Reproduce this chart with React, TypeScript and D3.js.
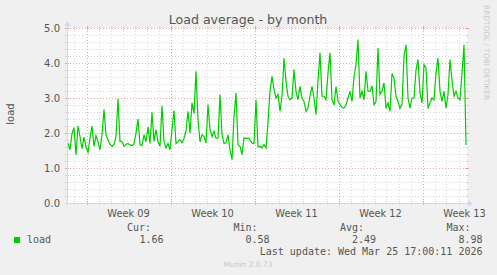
import React from "react";
import * as d3 from "d3";

const TITLE = "Load average - by month";
const Y_LABEL = "load";
const SERIES_NAME = "load";
const STAT_LABELS = ["Cur:", "Min:", "Avg:", "Max:"];
const STAT_VALUES = ["1.66", "0.58", "2.49", "8.98"];
const LAST_UPDATE = "Last update: Wed Mar 25 17:00:11 2026";
const FOOTER = "Munin 2.0.73";
const WATERMARK = "RRDTOOL / TOBI OETIKER";
const Y_TICKS = [0, 1, 2, 3, 4, 5];

// end of the graph and sampling step (4 hours per value)
const END_TIME = Date.UTC(2026, 2, 25, 17, 0, 0);
const SPAN_HOURS = 800;
const STEP_HOURS = 4;

const LOAD = [
  1.71, 1.52, 1.98, 2.15, 1.38, 2.2, 1.9, 1.55, 1.88, 1.6,
  1.45, 1.85, 2.2, 1.62, 1.92, 1.75, 1.52, 1.95, 2.67, 1.95,
  1.81, 1.68, 1.62, 1.67, 1.9, 2.97, 1.76, 1.75, 1.62, 1.67,
  1.7, 1.66, 1.64, 1.68, 2.0, 2.4, 1.67, 1.64, 1.95, 1.75,
  2.17, 1.7, 2.59, 1.76, 2.1, 1.75, 1.62, 2.78, 1.75, 1.57,
  1.7, 1.52, 2.1, 2.64, 1.7, 1.75, 1.81, 1.72, 1.84, 2.05,
  2.62, 2.0, 2.86, 2.55, 3.76, 2.38, 1.75, 1.95, 1.9, 1.71,
  2.81, 2.1, 1.9, 2.05, 1.85, 1.85, 3.1, 1.95, 1.7, 1.72,
  1.95, 1.52, 1.24, 2.48, 3.14, 1.67, 1.62, 1.38, 1.86, 1.84,
  1.86, 1.81, 1.71, 1.7, 2.95, 1.6, 1.62, 1.57, 1.67, 1.57,
  2.3, 3.19, 3.62, 3.25, 3.0, 3.1, 2.62, 3.05, 4.14, 3.48,
  3.05, 2.95, 3.0, 3.81, 3.19, 2.95, 3.33, 3.0, 2.9, 2.62,
  2.71, 3.05, 3.33, 3.0, 2.52, 3.5, 4.29, 3.05, 3.05, 2.95,
  3.71, 4.29, 2.95, 2.8, 3.33, 2.92, 2.81, 2.73, 2.71, 2.8,
  3.0, 3.19, 2.9, 3.6, 3.95, 4.67, 3.0, 3.19, 2.95, 3.76,
  3.2, 3.19, 3.35, 2.81, 2.9, 4.43, 3.1, 3.19, 3.43, 2.7,
  2.86, 2.62, 3.7, 3.57, 3.05, 2.9, 2.7, 2.81, 4.2, 4.52,
  3.0, 2.71, 3.0, 3.0, 3.8, 4.1, 3.14, 2.86, 3.95, 3.86,
  2.7, 2.86, 3.0, 2.95, 3.71, 4.14, 3.19, 2.9, 3.19, 2.71,
  3.1, 4.1, 3.5, 3.05, 3.19, 3.0, 2.95, 3.71, 4.52, 1.66,
];

const W = 497;
const H = 275;
const X0 = 67;
const X1 = 467;
const Y0 = 203;
const Y1 = 28;

const FONT = "'DejaVu Sans', sans-serif";
const MONO = "'DejaVu Sans Mono', monospace";
const TEXT = "#555555";
const AXIS = "#CFD6F8";
const MINOR = "#D8D8D8";
const MAJOR = "#E4A4A4";
const LINE = "#00CC00";

export default function App() {
  const HOUR = 3600 * 1000;
  const start = new Date(END_TIME - SPAN_HOURS * HOUR);
  const end = new Date(END_TIME);
  const x = d3.scaleUtc().domain([start, end]).range([X0, X1]);
  const y = d3.scaleLinear().domain([0, 5]).range([Y0, Y1]);

  const n = LOAD.length;
  const points = LOAD.map((v, i) => ({
    t: new Date(END_TIME - 2 * HOUR - (n - 1 - i) * STEP_HOURS * HOUR),
    v,
  }));
  const line = d3
    .line<{ t: Date; v: number }>()
    .x((d) => x(d.t))
    .y((d) => y(d.v));

  const days = d3.utcDay.range(start, end);
  const weeks = d3.utcSunday.range(d3.utcSunday.offset(start, -1), end);
  const weekSet = new Set(weeks.map((d) => d.getTime()));
  const minorY = d3.range(0, 5.001, 0.2).map((v) => +v.toFixed(1));
  const fmtWeek = d3.utcFormat("Week %V");
  const labels = weeks
    .map((w) => new Date(w.getTime() + 3.5 * 24 * HOUR))
    .filter((d) => d >= start && d <= end);

  return (
    <svg
      width={W}
      height={H}
      style={{ position: "absolute", left: 0, top: 0, display: "block" }}
      xmlns="http://www.w3.org/2000/svg"
    >
      <rect x={0} y={0} width={W} height={H} fill="#F0F0F0" />
      <rect x={X0} y={Y1} width={X1 - X0} height={Y0 - Y1} fill="#FFFFFF" />

      {/* horizontal grid */}
      {minorY.map((v) => {
        const major = Math.abs(v - Math.round(v)) < 1e-6;
        const yy = Math.round(y(v)) + 0.5;
        return (
          <g key={"h" + v}>
            <line x1={X0} x2={X1} y1={yy} y2={yy} stroke={major ? MAJOR : MINOR} strokeWidth={1} strokeDasharray="1,2" />
            <line x1={X0 - 2} x2={X0 + 2} y1={yy} y2={yy} stroke={major ? MAJOR : MINOR} strokeWidth={1} />
            <line x1={X1 - 2} x2={X1 + 2} y1={yy} y2={yy} stroke={major ? MAJOR : MINOR} strokeWidth={1} />
          </g>
        );
      })}

      {/* vertical grid */}
      {days.map((d) => {
        const major = weekSet.has(d.getTime());
        const xx = Math.round(x(d)) + 0.5;
        return (
          <g key={"v" + d.getTime()}>
            <line x1={xx} x2={xx} y1={Y1} y2={Y0} stroke={major ? MAJOR : MINOR} strokeWidth={1} strokeDasharray="1,2" />
            <line x1={xx} x2={xx} y1={Y0 - 2} y2={Y0 + 2} stroke={major ? MAJOR : MINOR} strokeWidth={1} />
            <line x1={xx} x2={xx} y1={Y1 - 2} y2={Y1 + 2} stroke={major ? MAJOR : MINOR} strokeWidth={1} />
          </g>
        );
      })}

      {/* data line */}
      <path d={line(points) || ""} fill="none" stroke={LINE} strokeWidth={1.2} />

      {/* axes */}
      <line x1={X0 + 0.5} x2={X0 + 0.5} y1={Y0 + 2} y2={Y1 - 4} stroke={AXIS} strokeWidth={1} />
      <line x1={X0 - 2} x2={X1 + 3} y1={Y0 + 0.5} y2={Y0 + 0.5} stroke={AXIS} strokeWidth={1} />
      <path d={`M${X0 - 2.5},${Y1 - 2} L${X0 + 0.5},${Y1 - 7} L${X0 + 3.5},${Y1 - 2} Z`} fill={AXIS} />
      <path d={`M${X1 + 1},${Y0 - 2.5} L${X1 + 6},${Y0 + 0.5} L${X1 + 1},${Y0 + 3.5} Z`} fill={AXIS} />

      {/* y tick labels */}
      {Y_TICKS.map((v) => (
        <text key={"yt" + v} x={60} y={y(v) + 3.6} textAnchor="end" fontFamily={FONT} fontSize={10} fill={TEXT}>
          {v.toFixed(1)}
        </text>
      ))}

      {/* x labels */}
      {labels.map((d) => (
        <text key={"xl" + d.getTime()} x={x(d)} y={217} textAnchor="middle" fontFamily={FONT} fontSize={9.8} fill={TEXT}>
          {fmtWeek(d)}
        </text>
      ))}

      {/* title */}
      <text x={248} y={24} textAnchor="middle" fontFamily={FONT} fontSize={12.6} fill={TEXT}>
        {TITLE}
      </text>

      {/* y label */}
      <text
        transform={`translate(14,114) rotate(-90)`}
        textAnchor="middle"
        fontFamily={FONT}
        fontSize={10}
        fill={TEXT}
      >
        {Y_LABEL}
      </text>

      {/* watermark */}
      <text
        transform={`translate(483.5,5) rotate(90)`}
        textAnchor="start"
        fontFamily={FONT}
        fontSize={7.4}
        fill="#C8C8C8"
      >
        {WATERMARK}
      </text>

      {/* legend */}
      <rect x={14} y={237} width={6} height={6} fill={LINE} />
      <text x={27} y={242.5} fontFamily={MONO} fontSize={10} fill={TEXT}>
        {SERIES_NAME}
      </text>
      {STAT_LABELS.map((l, i) => {
        const ends = [151, 257.5, 364, 470.5];
        return (
          <text key={l} x={ends[i]} y={230.5} textAnchor="end" fontFamily={MONO} fontSize={10} fill={TEXT}>
            {l}
          </text>
        );
      })}
      {STAT_VALUES.map((v, i) => {
        const ends = [163.5, 269.5, 376, 482.5];
        return (
          <text key={"sv" + i} x={ends[i]} y={242.5} textAnchor="end" fontFamily={MONO} fontSize={10} fill={TEXT}>
            {v}
          </text>
        );
      })}
      <text x={482.5} y={255} textAnchor="end" fontFamily={MONO} fontSize={10} fill={TEXT}>
        {LAST_UPDATE}
      </text>
      <text x={248} y={267} textAnchor="middle" fontFamily={FONT} fontSize={7.5} fill="#C8C8C8">
        {FOOTER}
      </text>
    </svg>
  );
}
